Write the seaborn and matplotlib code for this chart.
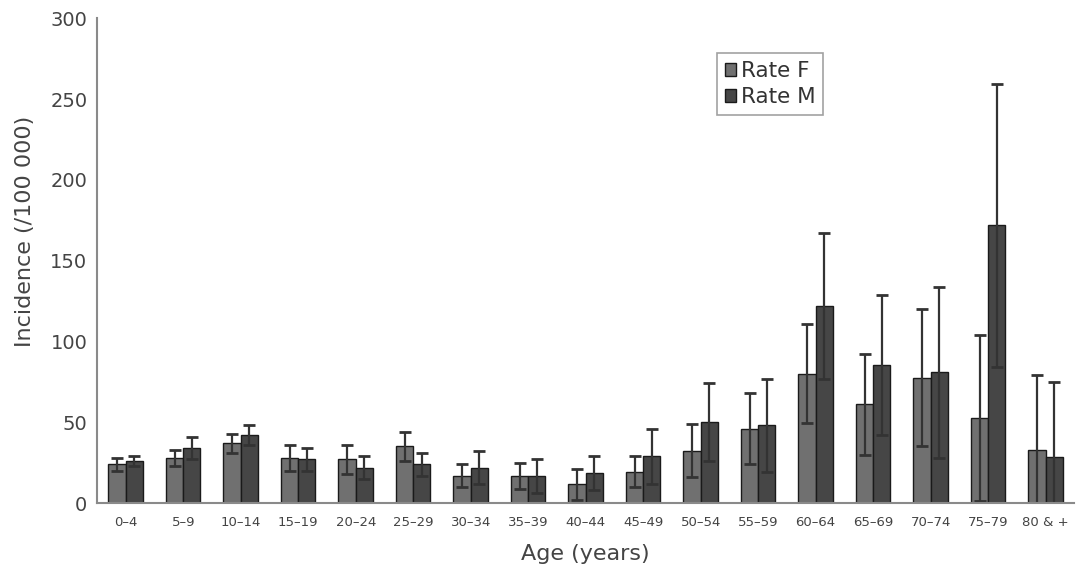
import pandas as pd
import numpy as np
import seaborn as sns
import matplotlib.pyplot as plt

# age groups and rates
ages = ["0\u20134", "5\u20139", "10\u201314", "15\u201319", "20\u201324", "25\u201329", "30\u201334",
        "35\u201339", "40\u201344", "45\u201349", "50\u201354", "55\u201359", "60\u201364", "65\u201369",
        "70\u201374", "75\u201379", "80 & +"]
rate_f = [24, 28, 37, 28, 27, 35, 17, 17, 11.5, 19.5, 32.5, 46, 80, 61, 77.5, 52.5, 33]
err_f = [4, 5, 6, 8, 9, 9, 7, 8, 9.5, 9.5, 16.5, 22, 30.5, 31.5, 42.5, 51.5, 46]
rate_m = [26, 34, 42, 27, 22, 24, 22, 16.5, 18.5, 29, 50, 48, 122, 85.5, 81, 172, 28.5]
err_m = [3, 7, 6, 7, 7, 7, 10, 10.5, 10.5, 17, 24, 28.5, 45, 43.5, 53, 87.5, 46.5]

df = pd.DataFrame({
    "Age": ages * 2,
    "Rate": rate_f + rate_m,
    "Sex": ["Rate F"] * len(ages) + ["Rate M"] * len(ages),
})

sns.set_style("white")
plt.rcParams['font.family'] = ['DejaVu Sans']

fig = plt.figure(figsize=(10.8, 5.71), dpi=100)
ax = fig.add_axes([0.0898, 0.119, 0.905, 0.849])

sns.barplot(data=df, x="Age", y="Rate", hue="Sex", order=ages,
            palette=["#707070", "#464646"], edgecolor="#1a1a1a", linewidth=1.0,
            width=0.6, errorbar=None, saturation=1, ax=ax)

# symmetric error bars on top of each bar
for cont, errs in zip(ax.containers, [err_f, err_m]):
    xs = [p.get_x() + p.get_width() / 2 for p in cont.patches]
    hs = [p.get_height() for p in cont.patches]
    ax.errorbar(xs, hs, yerr=errs, fmt="none", ecolor="#333333",
                elinewidth=1.6, capsize=4, capthick=2)

ax.set_xlim(-0.5, len(ages) - 0.5)
ax.set_ylim(0, 300)
ax.set_yticks(range(0, 301, 50))

gray = "#8a8a8a"
txt = "#444444"
for s in ["top", "right"]:
    ax.spines[s].set_visible(False)
for s in ["left", "bottom"]:
    ax.spines[s].set_color(gray)
    ax.spines[s].set_linewidth(1.5)

ax.tick_params(axis="y", direction="out", length=5, width=1.2, color=gray,
               labelsize=14, labelcolor=txt, pad=2)
ax.tick_params(axis="x", which="major", length=0, labelsize=9.5, labelcolor=txt, pad=9)
ax.set_xticks(np.arange(len(ages)) - 0.5, minor=True)
ax.tick_params(axis="x", which="minor", direction="out", length=4, width=1, color=gray)

ax.set_xlabel("Age (years)", fontsize=16, color=txt, labelpad=11)
ax.set_ylabel("Incidence (/100 000)", fontsize=16, color=txt)
ax.yaxis.set_label_coords(-0.063, 0.56)

leg = ax.legend(loc="upper left", bbox_to_anchor=(0.664, 0.907), bbox_transform=fig.transFigure,
                fontsize=15.5, frameon=True, fancybox=False, edgecolor=gray, handlelength=0.55,
                handleheight=0.55, handletextpad=0.2, borderpad=0.35, labelspacing=0.3,
                borderaxespad=0)
leg.get_frame().set_linewidth(1.2)
for t in leg.get_texts():
    t.set_color("#333333")

fig.savefig("out.png", dpi=100)
